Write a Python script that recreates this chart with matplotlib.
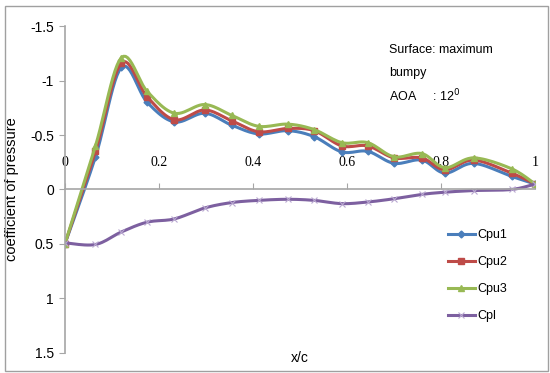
import matplotlib
matplotlib.use("Agg")
import matplotlib.pyplot as plt
import numpy as np
from matplotlib.patches import Rectangle
from matplotlib.lines import Line2D

# x/c stations
x_c = [0.0, 0.065, 0.12, 0.175, 0.233, 0.297, 0.355, 0.412, 0.474, 0.53,
       0.589, 0.644, 0.70, 0.759, 0.808, 0.869, 0.95, 1.0]

# pressure coefficients, upper surface (three runs) and lower surface
cpu1 = [0.5, -0.30, -1.12, -0.80, -0.62, -0.70, -0.59, -0.51, -0.54, -0.485,
        -0.345, -0.35, -0.24, -0.27, -0.15, -0.24, -0.12, -0.05]
cpu2 = [0.5, -0.35, -1.16, -0.85, -0.64, -0.73, -0.63, -0.53, -0.56, -0.54,
        -0.40, -0.40, -0.29, -0.29, -0.18, -0.27, -0.15, -0.05]
cpu3 = [0.5, -0.40, -1.21, -0.90, -0.70, -0.78, -0.68, -0.58, -0.60, -0.55,
        -0.43, -0.43, -0.30, -0.33, -0.20, -0.29, -0.19, -0.05]
cpl = [0.49, 0.505, 0.39, 0.30, 0.27, 0.17, 0.12, 0.10, 0.09, 0.10,
       0.13, 0.115, 0.085, 0.045, 0.025, 0.01, 0.0, -0.05]

x_ticks = [0, 0.2, 0.4, 0.6, 0.8, 1]
x_ticklabels = ["0", "0.2", "0.4", "0.6", "0.8", "1"]
y_ticks = [-1.5, -1, -0.5, 0, 0.5, 1, 1.5]
y_ticklabels = ["-1.5", "-1", "-0.5", "0", "0.5", "1", "1.5"]


def smooth(xs, ys, n=12):
    # Excel-like smoothed line (Catmull-Rom through the points)
    x = np.asarray(xs, float)
    y = np.asarray(ys, float)
    px = np.concatenate([[x[0]], x, [x[-1]]])
    py = np.concatenate([[y[0]], y, [y[-1]]])
    t = np.linspace(0, 1, n, endpoint=False)
    ox, oy = [], []
    for i in range(1, len(px) - 2):
        for p, out in ((px, ox), (py, oy)):
            p0, p1, p2, p3 = p[i - 1], p[i], p[i + 1], p[i + 2]
            out.extend(0.5 * (2 * p1 + (-p0 + p2) * t
                              + (2 * p0 - 5 * p1 + 4 * p2 - p3) * t ** 2
                              + (-p0 + 3 * p1 - 3 * p2 + p3) * t ** 3))
    ox.append(x[-1])
    oy.append(y[-1])
    return ox, oy


plt.rcParams["font.family"] = ["Liberation Sans", "DejaVu Sans"]

fig = plt.figure(figsize=(5.5, 3.73), dpi=100)
ax = fig.add_axes([0.118, 0.054, 0.855, 0.876])

# chart border (Excel style)
fig.patches.append(Rectangle((0.009, 0.005), 0.988, 0.979, transform=fig.transFigure,
                             fill=False, edgecolor="#A0A0A0", linewidth=1.0))

series = [
    ("Cpu1", cpu1, "#4A7EBB", dict(marker="D", ms=3.5)),
    ("Cpu2", cpu2, "#BE4B48", dict(marker="s", ms=5)),
    ("Cpu3", cpu3, "#98B954", dict(marker="^", ms=5)),
    ("Cpl", cpl, "#7D60A0", dict(marker="x", ms=5, mew=0.8, mec="#B9A8D0")),
]
handles = []
for name, vals, col, mk in series:
    sx, sy = smooth(x_c, vals)
    ax.plot(sx, sy, color=col, lw=2.2)
    ax.plot(x_c, vals, color=col, ls="none", **mk)
    handles.append(Line2D([], [], color=col, lw=2.2, label=name, **mk))

ax.set_xlim(0, 1)
ax.set_ylim(1.5, -1.5)

# spines: left axis and horizontal axis at Cp = 0
for s in ["right", "bottom"]:
    ax.spines[s].set_visible(False)
ax.spines["top"].set_position(("data", 0))
ax.spines["top"].set_color("#A6A6A6")
ax.spines["left"].set_color("#A6A6A6")
ax.spines["top"].set_linewidth(1.2)
ax.spines["left"].set_linewidth(1.2)

ax.xaxis.set_ticks_position("top")
ax.set_xticks(x_ticks)
ax.set_xticklabels(x_ticklabels, fontsize=10, family="Liberation Serif")
ax.tick_params(axis="x", direction="out", length=4, color="#A6A6A6", pad=11)
ax.set_yticks(y_ticks)
ax.set_yticklabels(y_ticklabels, fontsize=10)
ax.tick_params(axis="y", direction="out", length=4, color="#A6A6A6", pad=4)

ax.set_ylabel("coefficient of pressure", fontsize=10.5, labelpad=8)
ax.text(0.5, 1.55, "x/c", fontsize=10, ha="center", va="center", clip_on=False)

ax.text(0.69, -1.28, "Surface: maximum", fontsize=9, va="center")
ax.text(0.69, -1.07, "bumpy", fontsize=9, va="center")
ax.text(0.69, -0.86, "AOA     : 12$^{0}$", fontsize=9, va="center")

ax.legend(handles=handles, loc="lower left", bbox_to_anchor=(0.79, 0.06), frameon=False,
          fontsize=9, handlelength=2.2, handletextpad=0.2, labelspacing=1.2)

fig.savefig("out.png", dpi=100)
